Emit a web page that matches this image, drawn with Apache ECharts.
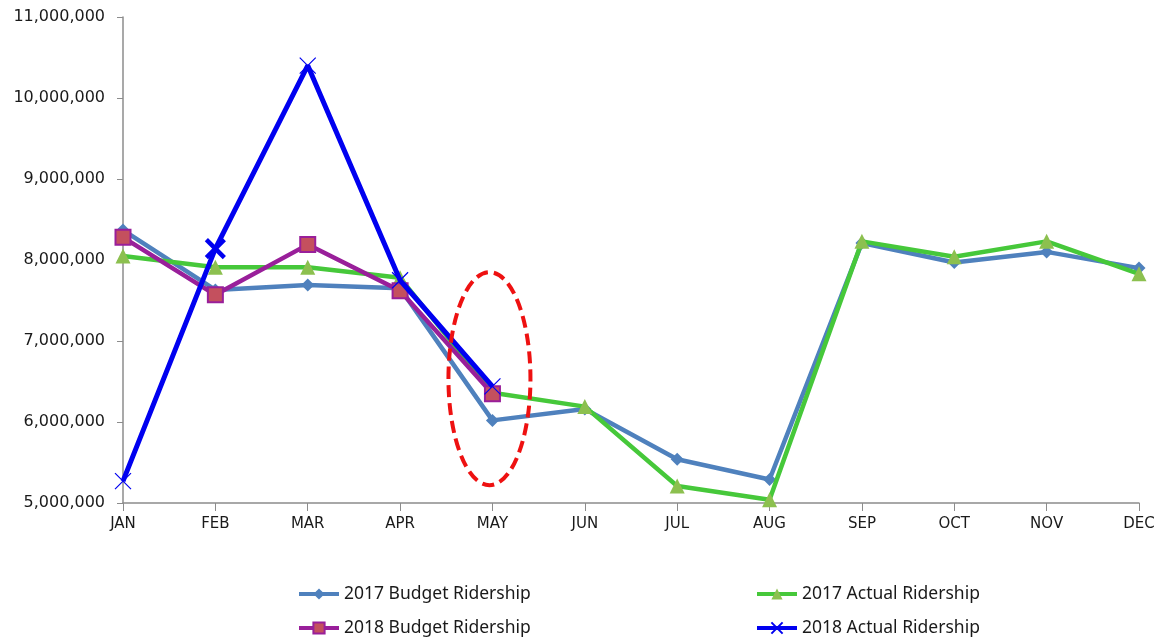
<!DOCTYPE html>
<html>
<head>
<meta charset="utf-8">
<script src="https://cdn.jsdelivr.net/npm/echarts@6/dist/echarts.min.js"></script>
<style>
  html, body { margin: 0; padding: 0; background: #fff; }
  #main { width: 1166px; height: 639px; }
</style>
</head>
<body>
<div id="main"></div>
<script>
// data
var months = ['JAN', 'FEB', 'MAR', 'APR', 'MAY', 'JUN', 'JUL', 'AUG', 'SEP', 'OCT', 'NOV', 'DEC'];
var budget2017 = [8370000, 7630000, 7690000, 7650000, 6020000, 6160000, 5540000, 5290000, 8210000, 7970000, 8100000, 7900000];
var actual2017 = [8050000, 7910000, 7910000, 7780000, 6360000, 6190000, 5210000, 5040000, 8230000, 8040000, 8230000, 7830000];
var budget2018 = [8280000, 7570000, 8190000, 7620000, 6350000];
var actual2018 = [5270000, 8140000, 10400000, 7750000, 6440000];
var seriesNames = ['2017 Budget Ridership', '2017 Actual Ridership', '2018 Budget Ridership', '2018 Actual Ridership'];
// red dashed ellipse around May (category, top value, bottom value)
var noteMonth = 'MAY';
var noteTop = 7850000;
var noteBottom = 5220000;

var myChart = echarts.init(document.getElementById('main'));

var xMark = 'path://M0,0L10,10M10,0L0,10';
var textColor = '#1a1a1a';
var legendFont = { color: textColor, fontFamily: 'Noto Sans', fontSize: 17.5 };

function legendAt(name, left, top) {
  return {
    data: [name],
    left: left,
    top: top,
    itemWidth: 40,
    itemHeight: 14,
    itemGap: 0,
    lineStyle: { width: 4 },
    textStyle: legendFont,
    selectedMode: false
  };
}

var option = {
  animation: false,
  backgroundColor: '#fff',
  grid: { left: 123, right: 27, top: 17, bottom: 136 },
  legend: [
    legendAt(seriesNames[0], 292, 580),
    legendAt(seriesNames[1], 750, 580),
    legendAt(seriesNames[2], 292, 614),
    legendAt(seriesNames[3], 750, 614)
  ],
  xAxis: {
    type: 'category',
    data: months,
    boundaryGap: false,
    axisLine: { lineStyle: { color: '#8c8c8c', width: 1.5 } },
    axisTick: { alignWithLabel: true, length: 8, lineStyle: { color: '#8c8c8c' } },
    axisLabel: { color: textColor, fontFamily: 'DejaVu Sans', fontSize: 15, margin: 14 },
    splitLine: { show: false }
  },
  yAxis: {
    type: 'value',
    min: 5000000,
    max: 11000000,
    interval: 1000000,
    axisLine: { show: true, lineStyle: { color: '#8c8c8c', width: 1.5 } },
    axisTick: { show: true, length: 6, lineStyle: { color: '#8c8c8c' } },
    axisLabel: {
      color: textColor, fontFamily: 'DejaVu Sans', fontSize: 16, margin: 18,
      formatter: function (v) { return v.toLocaleString('en-US'); }
    },
    splitLine: { show: false }
  },
  series: [
    {
      name: seriesNames[0],
      type: 'line',
      data: budget2017,
      symbol: 'diamond',
      symbolSize: 13,
      lineStyle: { color: '#4F81BD', width: 4.5 },
      itemStyle: { color: '#4F81BD' },
      z: 2
    },
    {
      name: seriesNames[1],
      type: 'line',
      data: actual2017,
      symbol: 'triangle',
      symbolSize: 15,
      lineStyle: { color: '#46C83A', width: 4.5 },
      itemStyle: { color: '#8CC04F' },
      z: 3
    },
    {
      name: seriesNames[2],
      type: 'line',
      data: budget2018,
      symbol: 'rect',
      symbolSize: 15,
      lineStyle: { color: '#991F9A', width: 4.5 },
      itemStyle: { color: '#C4505E', borderColor: '#991F9A', borderWidth: 2 },
      z: 4
    },
    {
      name: seriesNames[3],
      type: 'line',
      data: actual2018.map(function (v, i) {
        if (i === 1) {
          return { value: v, symbolSize: 18, itemStyle: { borderWidth: 4.5 } };
        }
        return v;
      }),
      symbol: xMark,
      symbolSize: 16,
      lineStyle: { color: '#0000F0', width: 5 },
      itemStyle: { color: '#0000F0', borderColor: '#0000F0', borderWidth: 1.2 },
      z: 5
    }
  ]
};

myChart.setOption(option);

// place the dashed ellipse through the axes
var noteTopPx = myChart.convertToPixel({ gridIndex: 0 }, [noteMonth, noteTop]);
var noteBottomPx = myChart.convertToPixel({ gridIndex: 0 }, [noteMonth, noteBottom]);
myChart.setOption({
  graphic: [{
    type: 'ellipse',
    shape: {
      cx: noteTopPx[0] - 3,
      cy: (noteTopPx[1] + noteBottomPx[1]) / 2,
      rx: 41,
      ry: (noteBottomPx[1] - noteTopPx[1]) / 2
    },
    style: { fill: 'none', stroke: '#EE1111', lineWidth: 4, lineDash: [12, 6] },
    z: 100
  }]
});
</script>
</body>
</html>
